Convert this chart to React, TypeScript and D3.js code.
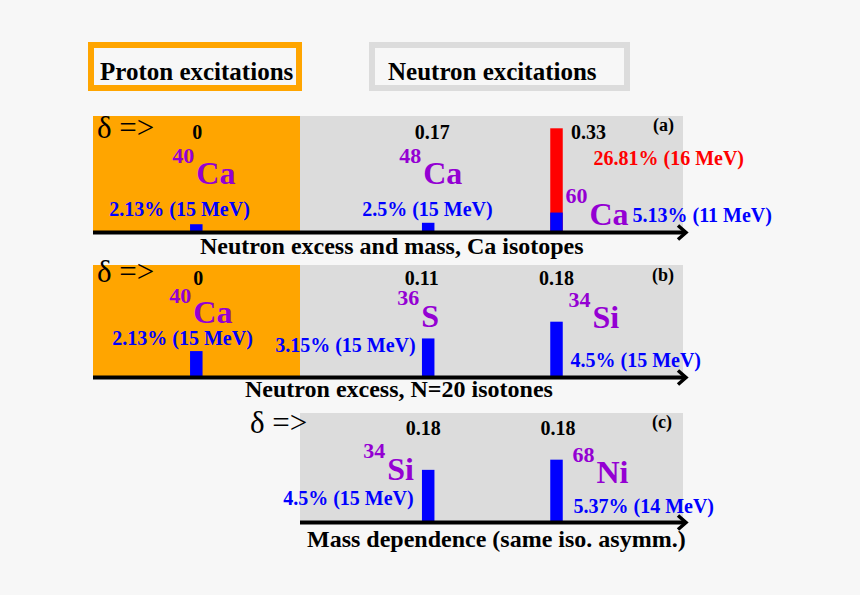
import * as d3 from "d3";

const W = 860;
const H = 595;

// columns along each axis: proton-closed reference, then two neutron-rich nuclei
const slots = ["p", "n1", "n2"];

// (a) neutron excess and mass, Ca isotopes
const aSlots = ["p", "n1", "n2"];
const aDelta = [0, 0.17, 0.33];
const aMass = ["40", "48", "60"];
const aSymbol = ["Ca", "Ca", "Ca"];
const aLow = [2.13, 2.5, 5.13];
const aLowMeV = [15, 15, 11];
const aHigh = [null, null, 26.81];
const aHighMeV = [null, null, 16];

// (b) neutron excess, N=20 isotones
const bSlots = ["p", "n1", "n2"];
const bDelta = [0, 0.11, 0.18];
const bMass = ["40", "36", "34"];
const bSymbol = ["Ca", "S", "Si"];
const bLow = [2.13, 3.15, 4.5];
const bLowMeV = [15, 15, 15];

// (c) mass dependence
const cSlots = ["n1", "n2"];
const cDelta = [0.18, 0.18];
const cMass = ["34", "68"];
const cSymbol = ["Si", "Ni"];
const cLow = [4.5, 5.37];
const cLowMeV = [15, 14];

const panelTitles = [
  "Neutron excess and mass, Ca isotopes",
  "Neutron excess, N=20 isotones",
  "Mass dependence (same iso. asymm.)",
];
const panelTags = ["(a)", "(b)", "(c)"];

const ORANGE = "#ffa500";
const GREY = "#dcdcdc";
const PURPLE = "#9400d3";
const BLUE = "#0000ff";
const RED = "#ff0000";
const FONT = "'Liberation Serif', 'Times New Roman', serif";

const slotX = d3.scaleOrdinal<string, number>().domain(slots).range([196.3, 428.2, 556.5]);

interface Layout {
  top: number;
  axisY: number;
  left: number;
  proton: boolean;
  strengthMax: number;
  strengthPx: number;
  deltaDx: number[];
  deltaY: number;
  massDx: number[];
  massY: number[];
  symDy: number[];
  pctDx: number[];
  pctY: number[];
  highDx?: number;
  highY?: number;
  arrowX: number[];
  titleX: number;
  titleY: number;
  tagX: number;
  tagY: number;
}

const layouts: Layout[] = [
  {
    top: 116, axisY: 232.5, left: 93, proton: true,
    strengthMax: 26.81, strengthPx: 104.2,
    deltaDx: [1, 4, 32], deltaY: 23,
    massDx: [-24, -29, 9], massY: [47, 47, 87], symDy: [21, 21, 22],
    pctDx: [-87, -66, 76], pctY: [100, 100, 106],
    highDx: 37, highY: 49,
    arrowX: [97, 138], titleX: 200, titleY: 254, tagX: 653, tagY: 131,
  },
  {
    top: 265, axisY: 377.5, left: 93, proton: true,
    strengthMax: 5, strengthPx: 62,
    deltaDx: [2, -6.5, 0], deltaY: 20,
    massDx: [-27, -31, 12], massY: [38, 40, 42], symDy: [20, 22, 21],
    pctDx: [-84, -153, 14], pctY: [80, 87, 102],
    arrowX: [97, 282], titleX: 245, titleY: 397, tagX: 652, tagY: 281,
  },
  {
    top: 413, axisY: 522.5, left: 300, proton: false,
    strengthMax: 5, strengthPx: 58.5,
    deltaDx: [-5, 1.5], deltaY: 22,
    massDx: [-65, 16], massY: [45, 49], symDy: [22, 21],
    pctDx: [-145, 17], pctY: [92, 100],
    arrowX: [250, 433], titleX: 307, titleY: 547, tagX: 652, tagY: 428,
  },
];

const panelData = [
  { slots: aSlots, delta: aDelta, mass: aMass, sym: aSymbol, low: aLow, lowE: aLowMeV, high: aHigh, highE: aHighMeV },
  { slots: bSlots, delta: bDelta, mass: bMass, sym: bSymbol, low: bLow, lowE: bLowMeV, high: [], highE: [] },
  { slots: cSlots, delta: cDelta, mass: cMass, sym: cSymbol, low: cLow, lowE: cLowMeV, high: [], highE: [] },
];

const RIGHT = 683;
const BAR_W = 12.5;

function Panel({ idx }: { idx: number }) {
  const L = layouts[idx];
  const D = panelData[idx];
  // strength -> bar height (each panel has its own scale)
  const h = d3.scaleLinear().domain([0, L.strengthMax]).range([0, L.strengthPx]);
  const tip = RIGHT + 3;
  return (
    <g>
      {L.proton && (
        <rect x={L.left} y={L.top} width={300 - L.left} height={L.axisY - L.top} fill={ORANGE} />
      )}
      <rect x={300} y={L.top} width={RIGHT - 300} height={L.axisY - L.top} fill={GREY} />

      {/* bars: red high-energy strength behind, blue on top */}
      {D.slots.map((s, i) => {
        const x = slotX(s) - BAR_W / 2;
        const hi = D.high[i];
        return (
          <g key={s}>
            {hi != null && (
              <rect x={x} y={L.axisY - h(hi)} width={BAR_W} height={h(hi)} fill={RED} />
            )}
            <rect x={x} y={L.axisY - h(D.low[i])} width={BAR_W} height={h(D.low[i])} fill={BLUE} />
          </g>
        );
      })}

      {/* axis with arrow */}
      <line x1={L.left} x2={tip} y1={L.axisY} y2={L.axisY} stroke="#000" strokeWidth={4} />
      <polyline
        points={`${tip - 8},${L.axisY - 7} ${tip},${L.axisY} ${tip - 8},${L.axisY + 7}`}
        fill="none" stroke="#000" strokeWidth={3.5} strokeLinejoin="miter"
      />

      <text x={L.arrowX[0]} y={L.arrowX[1]} fontFamily={FONT} fontSize={31} fill="#000">
        δ =&gt;
      </text>

      {D.slots.map((s, i) => {
        const x0 = slotX(s);
        const hi = D.high[i];
        return (
          <g key={"lab" + s} fontFamily={FONT} fontWeight="bold">
            <text x={x0 + L.deltaDx[i]} y={L.top + L.deltaY} textAnchor="middle" fontSize={20} fill="#000">
              {String(D.delta[i])}
            </text>
            <text x={x0 + L.massDx[i]} y={L.top + L.massY[i]} fill={PURPLE}>
              <tspan fontSize={22}>{D.mass[i]}</tspan>
              <tspan fontSize={32} dx={2} dy={L.symDy[i]}>{D.sym[i]}</tspan>
            </text>
            <text x={x0 + L.pctDx[i]} y={L.top + L.pctY[i]} fontSize={20} fill={BLUE}>
              {`${D.low[i]}% (${D.lowE[i]} MeV)`}
            </text>
            {hi != null && (
              <text x={x0 + (L.highDx ?? 0)} y={L.top + (L.highY ?? 0)} fontSize={20} fill={RED}>
                {`${hi}% (${D.highE[i]} MeV)`}
              </text>
            )}
          </g>
        );
      })}

      <text x={L.tagX} y={L.tagY} fontFamily={FONT} fontWeight="bold" fontSize={18} fill="#000">
        {panelTags[idx]}
      </text>
      <text x={L.titleX} y={L.titleY} fontFamily={FONT} fontWeight="bold" fontSize={24} fill="#000">
        {panelTitles[idx]}
      </text>
    </g>
  );
}

export default function App() {
  return (
    <svg
      width={W}
      height={H}
      viewBox={`0 0 ${W} ${H}`}
      style={{ position: "absolute", left: 0, top: 0, display: "block" }}
    >
      <rect width={W} height={H} fill="#f7f7f7" />

      {/* legend */}
      <rect x={91} y={45} width={208} height={43} fill="#f7f7f7" stroke={ORANGE} strokeWidth={6} />
      <text x={100} y={80} fontFamily={FONT} fontWeight="bold" fontSize={25} fill="#000">
        Proton excitations
      </text>
      <rect x={372} y={45} width={255} height={43} fill="#f7f7f7" stroke={GREY} strokeWidth={6} />
      <text x={388} y={80} fontFamily={FONT} fontWeight="bold" fontSize={25} fill="#000">
        Neutron excitations
      </text>

      {layouts.map((_, i) => (
        <Panel key={i} idx={i} />
      ))}
    </svg>
  );
}
